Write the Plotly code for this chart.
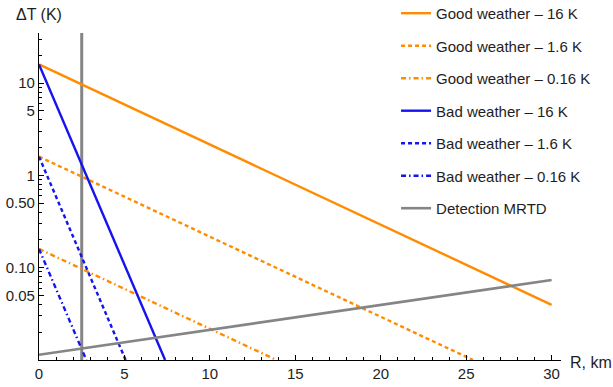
import plotly.graph_objects as go

# Data (straight lines on log scale: endpoints)
good_16_x = [0, 30]
good_16_y = [16, 0.0396]
good_1p6_x = [0, 25.4]
good_1p6_y = [1.6, 0.01]
good_0p16_x = [0, 13.9]
good_0p16_y = [0.16, 0.01]
bad_16_x = [0, 7.38]
bad_16_y = [16, 0.01]
bad_1p6_x = [0, 5.07]
bad_1p6_y = [1.6, 0.01]
bad_0p16_x = [0, 2.77]
bad_0p16_y = [0.16, 0.01]
mrtd_x = [0, 30]
mrtd_y = [0.0114, 0.0736]
range_line_x = [2.5, 2.5]
range_line_y = [0.01, 35]

y_tick_vals = [0.05, 0.1, 0.5, 1, 5, 10]
y_tick_text = ["0.05", "0.10", "0.50", "1", "5", "10"]
y_minor_vals = [0.02, 0.03, 0.04, 0.06, 0.07, 0.08, 0.09,
                0.2, 0.3, 0.4, 0.6, 0.7, 0.8, 0.9,
                2, 3, 4, 6, 7, 8, 9, 20, 30]
x_tick_vals = [0, 5, 10, 15, 20, 25, 30]

ORANGE = "#ff8c00"
BLUE = "#1414f0"
GRAY = "#858585"
FONT = "Liberation Sans"
TXT = "#1e1e1e"

series = [
    ("Good weather \u2013 16 K", good_16_x, good_16_y, ORANGE, "solid"),
    ("Good weather \u2013 1.6 K", good_1p6_x, good_1p6_y, ORANGE, "4px,3px"),
    ("Good weather \u2013 0.16 K", good_0p16_x, good_0p16_y, ORANGE, "5px,3px,1.5px,3px"),
    ("Bad weather \u2013 16 K", bad_16_x, bad_16_y, BLUE, "solid"),
    ("Bad weather \u2013 1.6 K", bad_1p6_x, bad_1p6_y, BLUE, "4px,3px"),
    ("Bad weather \u2013 0.16 K", bad_0p16_x, bad_0p16_y, BLUE, "5px,3px,1.5px,3px"),
]

fig = go.Figure()
fig.add_trace(go.Scatter(x=range_line_x, y=range_line_y, mode="lines",
                         line=dict(color=GRAY, width=3), showlegend=False,
                         hoverinfo="skip"))
for i, (name, xs, ys, col, dash) in enumerate(series):
    fig.add_trace(go.Scatter(x=xs, y=ys, mode="lines", name=name,
                             legendgroup=f"g{i}",
                             line=dict(color=col, width=2.4, dash=dash)))
fig.add_trace(go.Scatter(x=mrtd_x, y=mrtd_y, mode="lines", name="Detection MRTD",
                         legendgroup="g7", line=dict(color=GRAY, width=2.6)))

fig.update_layout(
    width=613, height=387,
    margin=dict(l=39, r=52, t=33, b=27, autoexpand=False),
    plot_bgcolor="white", paper_bgcolor="white",
    font=dict(family=FONT, size=15, color=TXT),
    legend=dict(x=0.684, y=0.413, xanchor="left", yanchor="bottom",
                bgcolor="rgba(0,0,0,0)", tracegroupgap=10,
                font=dict(family=FONT, size=15, color=TXT)),
    xaxis=dict(range=[0, 30.55], showline=True, linecolor="black", linewidth=1.2,
               showgrid=False, zeroline=False, ticks="inside", ticklen=5,
               tickcolor="black", tickvals=x_tick_vals,
               minor=dict(dtick=1, ticks="inside", ticklen=3, tickcolor="black",
                          showgrid=False)),
    yaxis=dict(type="log", range=[-2, 1.5441], showline=True, linecolor="black",
               linewidth=1.2, showgrid=False, zeroline=False, ticks="inside",
               ticklen=5, tickcolor="black", tickvals=y_tick_vals,
               ticktext=y_tick_text,
               minor=dict(tickvals=y_minor_vals, ticks="inside", ticklen=3,
                          tickcolor="black", showgrid=False)),
    annotations=[
        dict(text="\u0394T (K)", xref="paper", yref="paper", x=0, y=1,
             xanchor="left", yanchor="bottom", yshift=8, xshift=-25,
             showarrow=False, font=dict(family=FONT, size=16, color=TXT)),
        dict(text="R, km", xref="paper", yref="paper", x=1, y=0,
             xanchor="left", yanchor="middle", xshift=7, yshift=-2,
             showarrow=False, font=dict(family=FONT, size=16, color=TXT)),
    ],
)

fig.write_html("out.html")
